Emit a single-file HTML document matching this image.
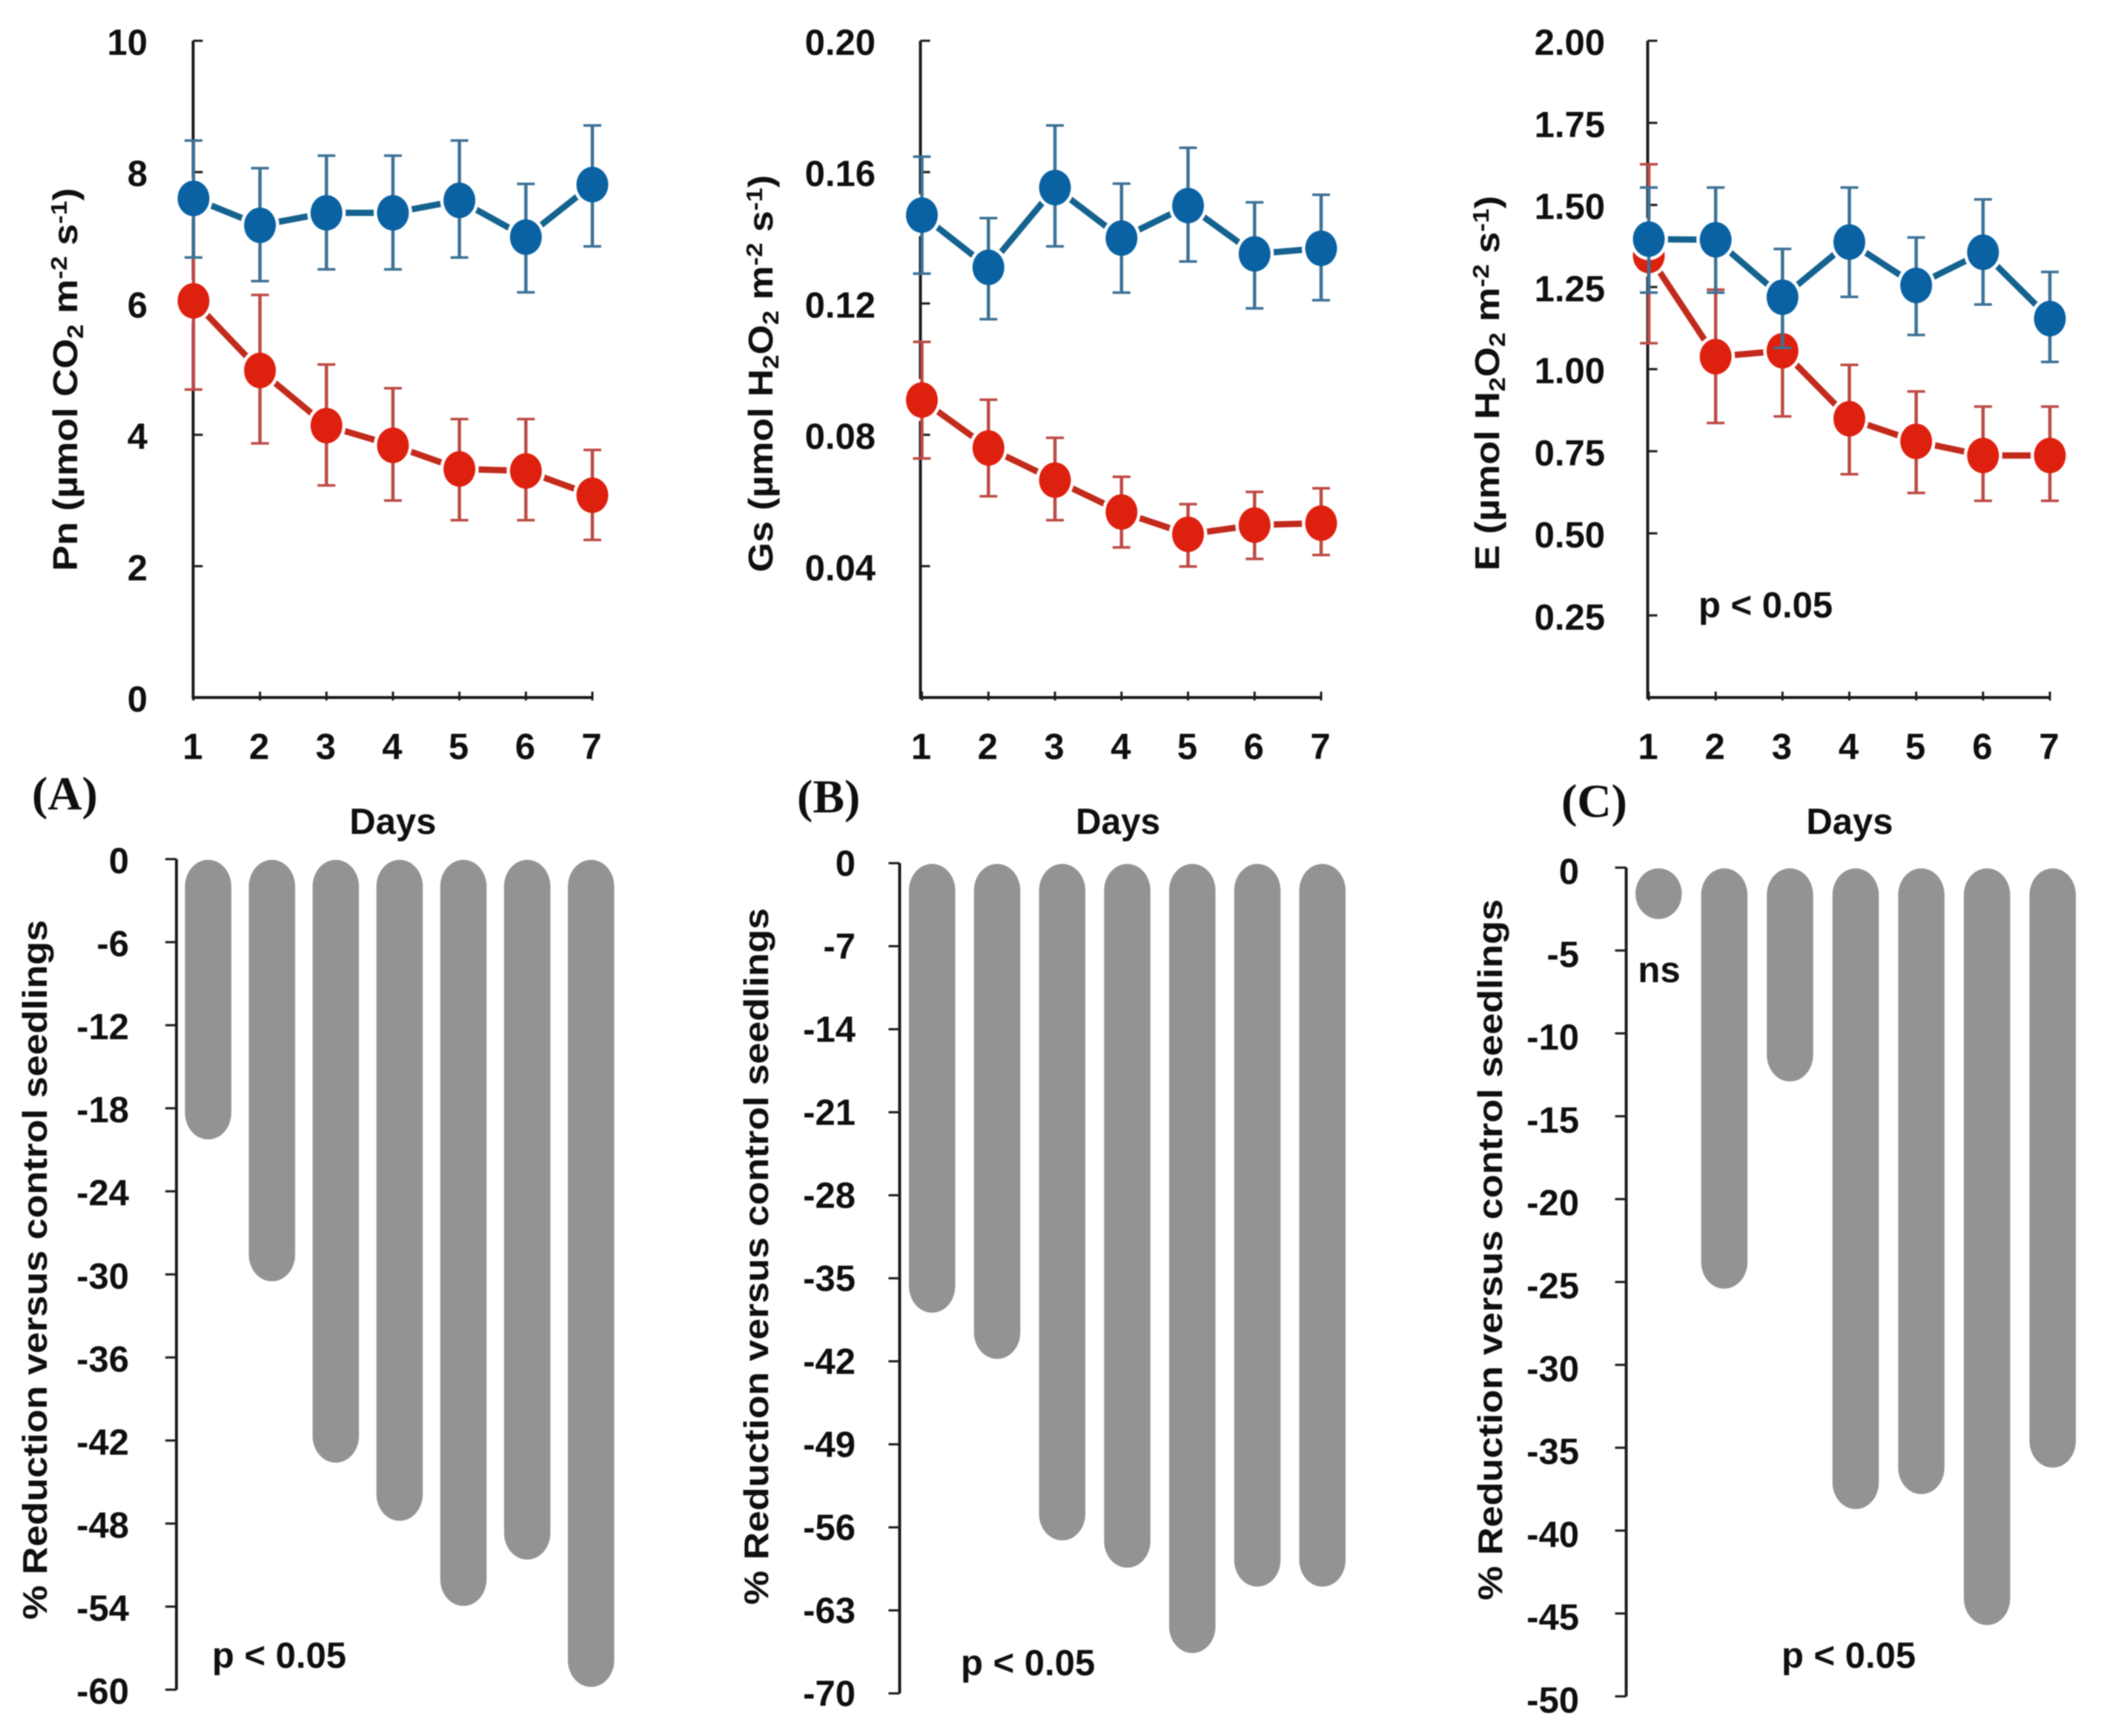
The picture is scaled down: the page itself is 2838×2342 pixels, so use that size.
<!DOCTYPE html>
<html lang="en">
<head>
<meta charset="utf-8">
<title>Gas exchange over seven days with percent reduction versus control</title>
<style>
  html, body { margin: 0; padding: 0; background: #ffffff; }
  #figure { display: block; width: 2838px; height: 2342px; filter: blur(0.7px); }
  text { font-family: "Liberation Sans", sans-serif; font-weight: 700; fill: #0f0f0f; }
  .panel-letter { font-family: "Liberation Serif", serif; font-size: 64px; }
  .title { font-size: 46px; }
  .note { font-size: 49px; }
  .sub { font-size: 31px; }
</style>
</head>
<body>
<svg id="figure" xmlns="http://www.w3.org/2000/svg" width="2838" height="2342" viewBox="0 0 2838 2342">
  <rect x="0" y="0" width="2838" height="2342" fill="#ffffff"></rect>
  <g id="marks"></g>

  <text class="title" transform="translate(104,512) rotate(-90)" text-anchor="middle" textLength="517" lengthAdjust="spacingAndGlyphs">Pn (µmol CO<tspan class="sub" dy="8">2</tspan><tspan dy="-8"> m</tspan><tspan class="sub" dy="-14">-2</tspan><tspan dy="14"> s</tspan><tspan class="sub" dy="-14">-1</tspan><tspan dy="14">)</tspan></text>
  <text class="title" transform="translate(1042,504) rotate(-90)" text-anchor="middle" textLength="536" lengthAdjust="spacingAndGlyphs">Gs (µmol H<tspan class="sub" dy="8">2</tspan><tspan dy="-8">O</tspan><tspan class="sub" dy="8">2</tspan><tspan dy="-8"> m</tspan><tspan class="sub" dy="-14">-2</tspan><tspan dy="14"> s</tspan><tspan class="sub" dy="-14">-1</tspan><tspan dy="14">)</tspan></text>
  <text class="title" transform="translate(2022,517) rotate(-90)" text-anchor="middle" textLength="506" lengthAdjust="spacingAndGlyphs">E (µmol H<tspan class="sub" dy="8">2</tspan><tspan dy="-8">O</tspan><tspan class="sub" dy="8">2</tspan><tspan dy="-8"> m</tspan><tspan class="sub" dy="-14">-2</tspan><tspan dy="14"> s</tspan><tspan class="sub" dy="-14">-1</tspan><tspan dy="14">)</tspan></text>

  <text class="title" transform="translate(63,1713) rotate(-90)" text-anchor="middle" textLength="944" lengthAdjust="spacingAndGlyphs">% Reduction versus control seedlings</text>
  <text class="title" transform="translate(1036,1695) rotate(-90)" text-anchor="middle" textLength="940" lengthAdjust="spacingAndGlyphs">% Reduction versus control seedlings</text>
  <text class="title" transform="translate(2026,1686) rotate(-90)" text-anchor="middle" textLength="946" lengthAdjust="spacingAndGlyphs">% Reduction versus control seedlings</text>

  <text class="panel-letter" x="43" y="1092">(A)</text>
  <text class="panel-letter" x="1075" y="1096">(B)</text>
  <text class="panel-letter" x="2106" y="1102">(C)</text>

  <text class="note" x="530" y="1125" text-anchor="middle">Days</text>
  <text class="note" x="1515" y="1125" text-anchor="middle" textLength="114" lengthAdjust="spacingAndGlyphs" transform="translate(-7,0)">Days</text>
  <text class="note" x="2495" y="1125" text-anchor="middle">Days</text>

  <text class="note" x="2291" y="833">p &lt; 0.05</text>
  <text class="note" x="286" y="2250">p &lt; 0.05</text>
  <text class="note" x="1296" y="2260">p &lt; 0.05</text>
  <text class="note" x="2403" y="2250">p &lt; 0.05</text>
  <text class="note" x="2238" y="1325" text-anchor="middle">ns</text>
</svg>

<script>
// ---- Shared categories ----
const days = [1, 2, 3, 4, 5, 6, 7];

// ---- Panel A: Pn ----
const pnTicks = [0, 2, 4, 6, 8, 10];
const pnTickLabels = ["0", "2", "4", "6", "8", "10"];
const pnControl = [7.60, 7.19, 7.38, 7.38, 7.57, 7.01, 7.81];
const pnControlHigh = [8.48, 8.06, 8.25, 8.25, 8.48, 7.82, 8.71];
const pnControlLow = [6.70, 6.34, 6.52, 6.52, 6.70, 6.17, 6.87];
const pnStress = [6.04, 4.98, 4.14, 3.84, 3.48, 3.45, 3.08];
const pnStressHigh = [7.39, 6.13, 5.07, 4.71, 4.24, 4.24, 3.77];
const pnStressLow = [4.69, 3.87, 3.23, 3.00, 2.70, 2.70, 2.40];

// ---- Panel B: Gs ----
const gsTicks = [0, 0.04, 0.08, 0.12, 0.16, 0.20];
const gsTickLabels = ["", "0.04", "0.08", "0.12", "0.16", "0.20"];
const gsControl = [0.1469, 0.1310, 0.1553, 0.1399, 0.1498, 0.1351, 0.1368];
const gsControlHigh = [0.1647, 0.1460, 0.1742, 0.1565, 0.1674, 0.1508, 0.1531];
const gsControlLow = [0.1291, 0.1152, 0.1374, 0.1233, 0.1328, 0.1185, 0.1210];
const gsStress = [0.0906, 0.0760, 0.0662, 0.0565, 0.0497, 0.0525, 0.0531];
const gsStressHigh = [0.1083, 0.0907, 0.0791, 0.0672, 0.0589, 0.0626, 0.0637];
const gsStressLow = [0.0728, 0.0613, 0.0540, 0.0457, 0.0399, 0.0422, 0.0434];

// ---- Panel C: E ----
const eTicks = [0, 0.25, 0.50, 0.75, 1.00, 1.25, 1.50, 1.75, 2.00];
const eTickLabels = ["", "0.25", "0.50", "0.75", "1.00", "1.25", "1.50", "1.75", "2.00"];
const eControl = [1.396, 1.394, 1.219, 1.387, 1.255, 1.356, 1.154];
const eControlHigh = [1.553, 1.553, 1.366, 1.553, 1.401, 1.517, 1.296];
const eControlLow = [1.233, 1.233, 1.065, 1.220, 1.104, 1.197, 1.022];
const eStress = [1.346, 1.038, 1.056, 0.849, 0.780, 0.737, 0.737];
const eStressHigh = [1.624, 1.242, 1.270, 1.013, 0.932, 0.886, 0.886];
const eStressLow = [1.079, 0.836, 0.856, 0.680, 0.623, 0.599, 0.599];

// ---- Reduction bar panels ----
const pnReductionTicks = [0, -6, -12, -18, -24, -30, -36, -42, -48, -54, -60];
const pnReduction = [-20.25, -30.5, -43.6, -47.8, -53.95, -50.6, -59.8];
const gsReductionTicks = [0, -7, -14, -21, -28, -35, -42, -49, -56, -63, -70];
const gsReduction = [-37.9, -41.8, -57.1, -59.4, -66.6, -61.0, -61.0];
const eReductionTicks = [0, -5, -10, -15, -20, -25, -30, -35, -40, -45, -50];
const eReduction = [-3.1, -25.4, -12.9, -38.7, -37.8, -45.7, -36.2];

const SVG_NS = "http://www.w3.org/2000/svg";
const marks = document.getElementById("marks");

function linear(d0, d1, r0, r1) {
  return function (v) { return r0 + (v - d0) * (r1 - r0) / (d1 - d0); };
}
function shape(parent, tag, props) {
  const el = document.createElementNS(SVG_NS, tag);
  for (const k in props) el.setAttribute(k, props[k]);
  parent.appendChild(el);
  return el;
}
function group(name) {
  const g = shape(marks, "g", {});
  
  
  return g;
}
function label(parent, x, y, str, anchor) {
  const t = shape(parent, "text", { x: x, y: y, "text-anchor": anchor, "font-size": 49 });
  t.textContent = str;
  return t;
}

const AXIS_COLOR = "#1c1c1c";

function drawSeries(g, prefix, xScale, yScale, vals, hi, lo, c) {
  const pts = vals.map(function (v, i) { return xScale(days[i]) + "," + yScale(v); }).join(" ");
  const line = shape(g, "polyline", { points: pts, fill: "none", stroke: c.line, "stroke-width": 8.5 });
  
  
  vals.forEach(function (v, i) {
    const x = xScale(days[i]);
    const halo = shape(g, "ellipse", { cx: x, cy: yScale(v), rx: 26, ry: 28.5, fill: "#ffffff" });
    
    
  });
  vals.forEach(function (v, i) {
    const x = xScale(days[i]);
    const stem = shape(g, "line", { x1: x, x2: x, y1: yScale(hi[i]), y2: yScale(lo[i]), stroke: c.err, "stroke-width": 4.5 });
    
    
    const capHi = shape(g, "line", { x1: x - 12, x2: x + 12, y1: yScale(hi[i]), y2: yScale(hi[i]), stroke: c.err, "stroke-width": 3.5 });
    
    
    const capLo = shape(g, "line", { x1: x - 12, x2: x + 12, y1: yScale(lo[i]), y2: yScale(lo[i]), stroke: c.err, "stroke-width": 3.5 });
    
    
  });
  vals.forEach(function (v, i) {
    const m = shape(g, "ellipse", { cx: xScale(days[i]), cy: yScale(v), rx: 21.5, ry: 24, fill: c.fill });
    
    
  });
}

const BLUE = { line: "#13628f", err: "#3d7195", fill: "#0a62a3" };
const RED = { line: "#c22a1c", err: "#bd4a44", fill: "#de200f" };

function linePanel(cfg) {
  const g = group(cfg.name + "-line-panel");
  const xScale = linear(days[0], days[days.length - 1], cfg.x1, cfg.x7);
  const yScale = linear(cfg.ticks[0], cfg.ticks[cfg.ticks.length - 1], 941, 55);

  const yAxis = shape(g, "line", { x1: cfg.axisX, x2: cfg.axisX, y1: yScale(cfg.ticks[cfg.ticks.length - 1]), y2: yScale(cfg.ticks[0]), stroke: AXIS_COLOR, "stroke-width": 4 });
  
  
  const xAxis = shape(g, "line", { x1: cfg.axisX - 2, x2: cfg.x7 + 1, y1: 941, y2: 941, stroke: AXIS_COLOR, "stroke-width": 4 });
  
  

  cfg.ticks.forEach(function (t, i) {
    const tick = shape(g, "line", { x1: cfg.axisX, x2: cfg.axisX + 13, y1: yScale(t), y2: yScale(t), stroke: AXIS_COLOR, "stroke-width": 3 });
    
    
    if (cfg.labels[i]) {
      const tl = label(g, cfg.labelX, yScale(t) + 19, cfg.labels[i], "end");
      
      
    }
  });
  days.forEach(function (d) {
    const x = xScale(d);
    const tick = shape(g, "line", { x1: x, x2: x, y1: 933, y2: 945, stroke: AXIS_COLOR, "stroke-width": 3 });
    
    
    const tl = label(g, x - 1, 1024, String(d), "middle");
    
    
  });

  drawSeries(g, cfg.name + "-stress", xScale, yScale, cfg.stress, cfg.stressHigh, cfg.stressLow, RED);
  drawSeries(g, cfg.name + "-control", xScale, yScale, cfg.control, cfg.controlHigh, cfg.controlLow, BLUE);
}

function barPanel(cfg) {
  const g = group(cfg.name + "-reduction-panel");
  const xScale = linear(days[0], days[days.length - 1], cfg.x1, cfg.x7);
  const yScale = linear(0, cfg.ticks[cfg.ticks.length - 1], cfg.y0, cfg.yEnd);

  const yAxis = shape(g, "line", { x1: cfg.axisX, x2: cfg.axisX, y1: cfg.y0, y2: cfg.yEnd, stroke: AXIS_COLOR, "stroke-width": 4 });
  
  
  cfg.ticks.forEach(function (t) {
    const tick = shape(g, "line", { x1: cfg.axisX - 15, x2: cfg.axisX, y1: yScale(t), y2: yScale(t), stroke: AXIS_COLOR, "stroke-width": 3 });
    
    
    const tl = label(g, cfg.labelX, yScale(t) + cfg.labelDy, String(t), "end");
    
    
  });
  cfg.values.forEach(function (v, i) {
    const top = cfg.y0 + 1;
    const bar = shape(g, "rect", { x: xScale(days[i]) - 31, y: top, width: 62.5, height: yScale(v) - top, rx: 31, ry: 36, fill: "#939393" });
    
    
  });
}

linePanel({ name: "pn", axisX: 260.5, x1: 261, x7: 799, labelX: 199, ticks: pnTicks, labels: pnTickLabels,
  control: pnControl, controlHigh: pnControlHigh, controlLow: pnControlLow,
  stress: pnStress, stressHigh: pnStressHigh, stressLow: pnStressLow });
linePanel({ name: "gs", axisX: 1241.5, x1: 1243.5, x7: 1782, labelX: 1181, ticks: gsTicks, labels: gsTickLabels,
  control: gsControl, controlHigh: gsControlHigh, controlLow: gsControlLow,
  stress: gsStress, stressHigh: gsStressHigh, stressLow: gsStressLow });
linePanel({ name: "e", axisX: 2222.5, x1: 2224, x7: 2765, labelX: 2165, ticks: eTicks, labels: eTickLabels,
  control: eControl, controlHigh: eControlHigh, controlLow: eControlLow,
  stress: eStress, stressHigh: eStressHigh, stressLow: eStressLow });

barPanel({ name: "pn", axisX: 238, x1: 280.5, x7: 797, y0: 1159, yEnd: 2279.5, labelX: 174, labelDy: 19, ticks: pnReductionTicks, values: pnReduction });
barPanel({ name: "gs", axisX: 1213.5, x1: 1257, x7: 1783.5, y0: 1164.5, yEnd: 2284.5, labelX: 1154, labelDy: 17, ticks: gsReductionTicks, values: gsReduction });
barPanel({ name: "e", axisX: 2193.5, x1: 2237, x7: 2768.5, y0: 1170.5, yEnd: 2288.5, labelX: 2130, labelDy: 22, ticks: eReductionTicks, values: eReduction });
</script>
</body>
</html>
